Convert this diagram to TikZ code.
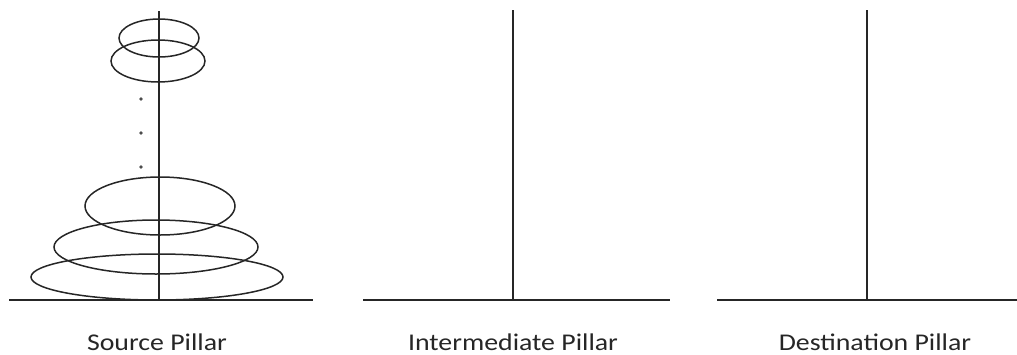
\documentclass[tikz,border=0pt]{standalone}
\usepackage{fontspec}
\setmainfont{Carlito}[FakeStretch=1.16]
\usetikzlibrary{positioning,calc}

\begin{document}
\begin{tikzpicture}[x=1pt, y=-1pt,
    pillar/.style={draw=black!85, line width=1.5pt},
    disk/.style={draw=black!85, line width=1.5pt},
    dotMark/.style={fill=black!70, draw=none},
    pillarLabel/.style={font=\fontsize{24}{28}\selectfont, text=black!85, anchor=base, inner sep=0pt}
]
\useasboundingbox (0,0) rectangle (1017,354);
\coordinate (srcBase) at (159,300);
\coordinate (midBase) at (513,300);
\coordinate (dstBase) at (867,300);
\draw[pillar] (9,300) -- (313,300);
\draw[pillar] (363,300) -- (670,300);
\draw[pillar] (717,300) -- (1017,300);
\draw[pillar] (srcBase) -- ++(0,-289);
\draw[pillar] (midBase) -- ++(0,-290);
\draw[pillar] (dstBase) -- ++(0,-290);
\draw[disk] (159,38) ellipse [x radius=40pt, y radius=19pt];
\draw[disk] (158,61) ellipse [x radius=47pt, y radius=21pt];
\fill[dotMark] (141,99) circle (1.8pt);
\fill[dotMark] (141,133) circle (1.8pt);
\fill[dotMark] (141,167) circle (1.8pt);
\draw[disk] (160,206) ellipse [x radius=75pt, y radius=29pt];
\draw[disk] (156,247) ellipse [x radius=102pt, y radius=27pt];
\draw[disk] (157,277) ellipse [x radius=126pt, y radius=23pt];
\node[pillarLabel] (srcLabel) at ($(srcBase)+(-2,50)$) {Source Pillar};
\node[pillarLabel] (midLabel) at ($(midBase)+(0,50)$) {Intermediate Pillar};
\node[pillarLabel] (dstLabel) at ($(dstBase)+(8,50)$) {Destination Pillar};
\end{tikzpicture}
\end{document}
